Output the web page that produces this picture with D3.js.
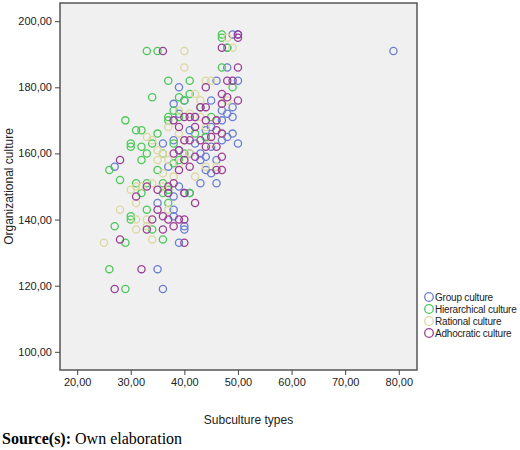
<!DOCTYPE html>
<html>
<head>
<meta charset="utf-8">
<script src="https://cdn.jsdelivr.net/npm/d3@7"></script>
<style>
  body { margin: 0; background: #fff; }
  text { font-family: Arial, "Liberation Sans", sans-serif; }
  text.source { font-family: "Liberation Serif", "Times New Roman", serif; }
</style>
</head>
<body>
<svg id="chart" width="520" height="450"></svg>
<script>
'use strict';

var seriesNames = ['Group culture', 'Hierarchical culture', 'Rational culture', 'Adhocratic culture'];
var seriesColors = ['#6a7fd0', '#4cc85a', '#dcd8a0', '#9b3f96'];
var xTicks = [20, 30, 40, 50, 60, 70, 80];
var yTicks = [100, 120, 140, 160, 180, 200];

// [subculture score, organizational culture]
var groupData = [
  [79, 191], [49, 196], [50, 196], [48, 192], [48, 186], [46, 182], [50, 182], [39, 180],
  [49, 174], [48, 172], [49, 171], [47, 173], [45, 168], [44, 167], [49, 166], [48, 165],
  [50, 163], [47, 164], [38, 175], [40, 176], [45, 162], [43, 160], [44, 159], [43, 158],
  [37, 156], [44, 155], [38, 164], [36, 163], [39, 172], [42, 171], [41, 160], [46, 158],
  [45, 154], [46, 151], [40, 148], [39, 150], [41, 148], [35, 145], [38, 143], [38, 141],
  [40, 138], [40, 137], [39, 133], [35, 125], [36, 119], [27, 156], [43, 151], [42, 163],
  [47, 170], [45, 176], [44, 165], [41, 167], [39, 161], [38, 147]
];
var hierData = [
  [47, 196], [47, 195], [48, 192], [47, 186], [49, 180], [33, 191], [35, 191], [37, 182],
  [41, 182], [41, 178], [39, 177], [34, 177], [40, 176], [38, 173], [39, 171], [37, 171],
  [29, 170], [31, 167], [32, 167], [30, 163], [30, 162], [32, 162], [34, 163], [35, 166],
  [37, 170], [33, 160], [32, 158], [26, 155], [35, 155], [28, 152], [31, 151], [33, 151],
  [36, 151], [36, 148], [32, 148], [37, 145], [37, 149], [30, 141], [30, 140], [33, 143],
  [34, 137], [27, 138], [29, 133], [36, 134], [26, 125], [29, 119], [38, 157], [41, 148],
  [44, 165], [43, 174], [40, 160], [45, 171], [39, 158], [36, 160], [42, 166], [38, 163]
];
var ratData = [
  [48, 195], [49, 192], [40, 191], [40, 186], [44, 182], [45, 182], [47, 175], [42, 178],
  [39, 173], [41, 172], [43, 171], [44, 168], [33, 165], [34, 164], [36, 160], [35, 158],
  [37, 158], [41, 160], [44, 156], [46, 156], [47, 166], [40, 164], [39, 157], [31, 150],
  [32, 150], [34, 151], [36, 150], [30, 149], [31, 145], [31, 140], [33, 140], [33, 138],
  [31, 137], [34, 134], [25, 133], [28, 143], [37, 143], [38, 153], [42, 153], [39, 166],
  [45, 163], [43, 176], [48, 176], [46, 170], [37, 168], [35, 161], [36, 154], [42, 145]
];
var adhoData = [
  [50, 196], [50, 195], [47, 192], [50, 186], [36, 191], [44, 180], [48, 182], [49, 182],
  [47, 178], [48, 177], [50, 176], [47, 175], [43, 174], [44, 174], [40, 171], [41, 171],
  [42, 171], [44, 170], [46, 170], [38, 170], [39, 168], [46, 167], [47, 166], [40, 164],
  [41, 164], [43, 164], [44, 162], [46, 162], [39, 161], [42, 159], [38, 160], [40, 158],
  [47, 159], [28, 158], [46, 155], [47, 155], [41, 156], [39, 155], [37, 150], [38, 151],
  [33, 150], [35, 149], [31, 147], [37, 148], [40, 148], [42, 145], [35, 143], [36, 141],
  [34, 140], [37, 140], [39, 140], [40, 140], [38, 138], [33, 137], [36, 137], [28, 134],
  [40, 133], [32, 125], [27, 119], [45, 165], [42, 168]
];
var allSeries = [groupData, hierData, ratData, adhoData];

var svg = d3.select('#chart');
var plot = { left: 60, top: 3, right: 417, bottom: 370 };

var x = d3.scaleLinear().domain([16.8, 83.4]).range([plot.left, plot.right]);
var y = d3.scaleLinear().domain([94.5, 205.5]).range([plot.bottom, plot.top]);
var fmt = function(d) { return d3.format('.2f')(d).replace('.', ','); };

svg.append('rect')
  .attr('x', plot.left).attr('y', plot.top)
  .attr('width', plot.right - plot.left).attr('height', plot.bottom - plot.top)
  .attr('fill', '#f0f0f0').attr('stroke', '#555').attr('stroke-width', 1.5);

var xAxis = svg.append('g')
  .attr('transform', 'translate(0,' + plot.bottom + ')')
  .call(d3.axisBottom(x).tickValues(xTicks).tickFormat(fmt).tickSizeOuter(0).tickSize(5));
var yAxis = svg.append('g')
  .attr('transform', 'translate(' + plot.left + ',0)')
  .call(d3.axisLeft(y).tickValues(yTicks).tickFormat(fmt).tickSizeOuter(0).tickSize(5));
[xAxis, yAxis].forEach(function(a) {
  a.select('.domain').remove();
  a.selectAll('line').attr('stroke', '#444');
  a.selectAll('text').attr('font-size', 11).attr('fill', '#222');
});

allSeries.forEach(function(data, i) {
  svg.append('g').selectAll('circle')
    .data(data)
    .join('circle')
    .attr('cx', function(d) { return x(d[0]); })
    .attr('cy', function(d) { return y(d[1]); })
    .attr('r', 3.6)
    .attr('fill', 'none')
    .attr('stroke', seriesColors[i])
    .attr('stroke-width', 1.3);
});

svg.append('text')
  .attr('x', (plot.left + plot.right) / 2 + 10).attr('y', 424)
  .attr('text-anchor', 'middle').attr('font-size', 12).attr('fill', '#222')
  .text('Subculture types');
svg.append('text')
  .attr('transform', 'translate(13,' + (plot.top + plot.bottom) / 2 + ') rotate(-90)')
  .attr('text-anchor', 'middle').attr('font-size', 12).attr('fill', '#222')
  .text('Organizational culture');

var legend = svg.append('g').attr('transform', 'translate(429,297)');
seriesNames.forEach(function(name, i) {
  var row = legend.append('g').attr('transform', 'translate(0,' + i * 12 + ')');
  row.append('circle').attr('r', 4.3).attr('fill', 'none')
    .attr('stroke', seriesColors[i]).attr('stroke-width', 1.3);
  row.append('text').attr('x', 6).attr('y', 4)
    .attr('font-size', 10).attr('letter-spacing', -0.2)
    .attr('fill', '#222').text(name);
});

svg.append('text')
  .attr('class', 'source')
  .attr('x', 2).attr('y', 444)
  .attr('font-size', 16).attr('fill', '#000')
  .call(function(t) {
    t.append('tspan').attr('font-weight', 'bold').text('Source(s):');
    t.append('tspan').text(' Own elaboration');
  });
</script>
</body>
</html>
